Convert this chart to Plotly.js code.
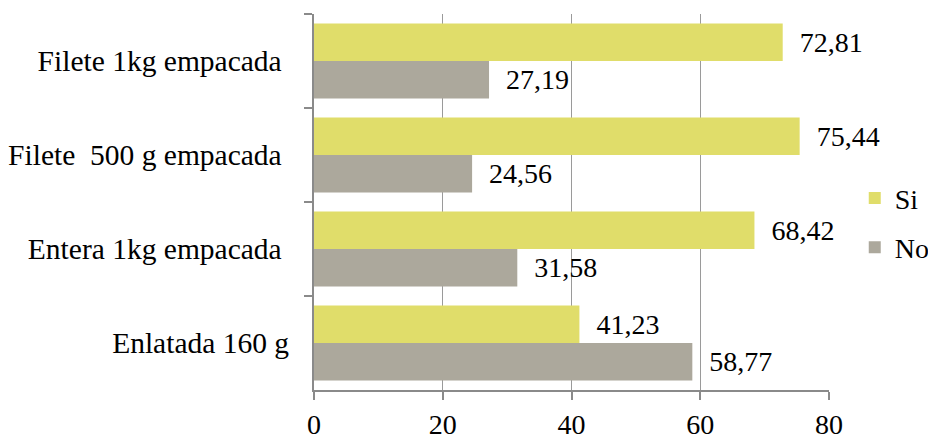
<!DOCTYPE html>
<html><head><meta charset="utf-8">
<script src="https://cdn.plot.ly/plotly-3.0.1.min.js"></script>
<style>html,body{margin:0;padding:0;background:#fff}#chart{width:928px;height:436px}</style>
</head><body><div id="chart"></div>
<script>
const categories = ["Filete 1kg empacada\u00a0", "Filete\u00a0 500 g empacada\u00a0", "Entera 1kg empacada\u00a0", "Enlatada 160 g"];
const siValues = [72.81, 75.44, 68.42, 41.23];
const noValues = [27.19, 24.56, 31.58, 58.77];
const seriesNames = ["Si", "No"];
const xTickValues = [0, 20, 40, 60, 80];
const xTickLabels = ["0", "20", "40", "60", "80"];

const fmt = v => "\u00a0\u00a0" + v.toFixed(2).replace(".", ",");
const FONT = "Liberation Serif";

const traces = [
  {type: "bar", orientation: "h", name: seriesNames[0], legendgroup: "g1",
   y: categories, x: siValues, text: siValues.map(fmt),
   textposition: "outside", cliponaxis: false, constraintext: "none",
   textfont: {family: FONT, size: 28, color: "#000"},
   marker: {color: "#e0dd6a"}, hoverinfo: "x+y"},
  {type: "bar", orientation: "h", name: seriesNames[1], legendgroup: "g2",
   y: categories, x: noValues, text: noValues.map(fmt),
   textposition: "outside", cliponaxis: false, constraintext: "none",
   textfont: {family: FONT, size: 28, color: "#000"},
   marker: {color: "#aca89c"}, hoverinfo: "x+y"}
];

const layout = {
  width: 928, height: 436,
  margin: {l: 314, r: 99, t: 14, b: 46, autoexpand: false},
  paper_bgcolor: "#fff", plot_bgcolor: "#fff",
  font: {family: FONT, size: 28, color: "#000"},
  barmode: "group", bargap: 0.2, bargroupgap: 0,
  showlegend: true,
  legend: {x: 1.05, xanchor: "left", y: 0.445, yanchor: "middle",
           font: {family: FONT, size: 28, color: "#000"},
           tracegroupgap: 10, traceorder: "grouped", bgcolor: "rgba(0,0,0,0)"},
  xaxis: {range: [0, 80], tickvals: xTickValues, ticktext: xTickLabels,
          showgrid: true, gridcolor: "#9a9a9a", gridwidth: 1.3,
          showline: true, linecolor: "#8a8a8a", linewidth: 2,
          ticks: "outside", ticklen: 8, tickwidth: 2, tickcolor: "#8a8a8a",
          tickfont: {family: FONT, size: 28, color: "#000"},
          zeroline: false, fixedrange: true, automargin: false},
  yaxis: {type: "category", autorange: "reversed",
          showgrid: false, showline: true, linecolor: "#8a8a8a", linewidth: 2,
          ticks: "outside", tickson: "boundaries", ticklen: 8, tickwidth: 2, tickcolor: "#8a8a8a",
          tickfont: {family: FONT, size: 29.5, color: "#000"},
          ticklabelstandoff: 17, zeroline: false, fixedrange: true, automargin: false}
};

Plotly.newPlot("chart", traces, layout, {displayModeBar: false, staticPlot: true});
</script>
</body></html>
